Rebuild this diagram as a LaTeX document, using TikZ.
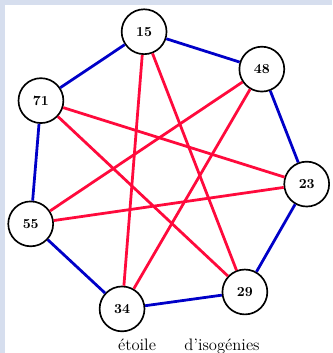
\documentclass[tikz,border=0pt]{standalone}
\usepackage{tikz}
\usetikzlibrary{positioning}
\definecolor{frame}{HTML}{D6DEEE}
\definecolor{cyc}{HTML}{0000C8}
\definecolor{chord}{HTML}{FF0A3C}

\begin{document}
\begin{tikzpicture}[x=1cm, y=1cm,
  vertex/.style={circle, draw=black, line width=1.2pt, fill=white, minimum size=1.14cm, inner sep=0pt, font=\normalsize\bfseries},
  cycedge/.style={cyc, line width=2pt},
  chordedge/.style={chord, line width=2pt}]
  \fill[frame] (0,0) rectangle (8.433,8.966);
  \fill[white] (0.127,0) rectangle (8.433,8.839);
  \useasboundingbox (0,0) rectangle (8.433,8.966);
  \foreach \x/\y/\name in {3.66/8.16/15, 6.65/7.21/48, 1.04/6.41/71, 7.79/4.29/23, 0.78/3.28/55, 6.22/1.55/29, 3.10/1.12/34}{
    \node[vertex] (n\name) at (\x,\y) {\name};
  }
  \foreach \a/\b in {15/48, 48/23, 23/29, 29/34, 34/55, 55/71, 71/15}{
    \draw[cycedge] (n\a) -- (n\b);
  }
  \foreach \a/\b in {15/34, 15/29, 48/55, 48/34, 71/23, 71/29, 23/55}{
    \draw[chordedge] (n\a) -- (n\b);
  }
  \node[anchor=base, font=\large] (lab1) at (3.48,0.076) {étoile};
  \node[anchor=base, font=\large] (lab2) at (5.64,0.076) {d'isogénies};
\end{tikzpicture}
\end{document}
